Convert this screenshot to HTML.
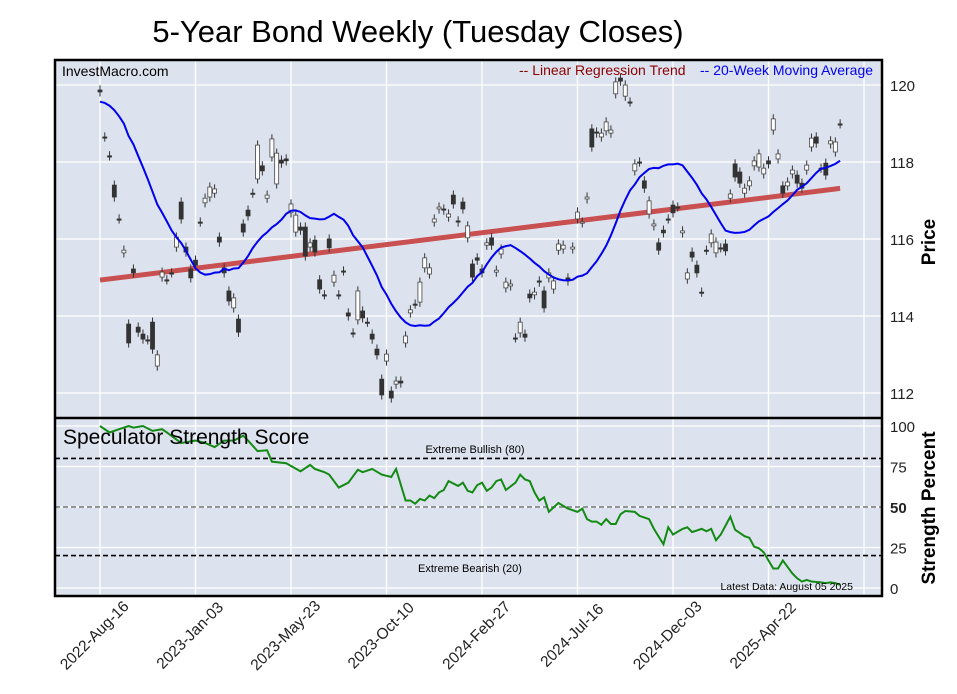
<!DOCTYPE html>
<html><head><meta charset="utf-8"><style>
html,body{margin:0;padding:0;background:#fff}
svg{display:block;font-family:"Liberation Sans",Arial,sans-serif}
</style></head><body>
<svg id="chart" width="957" height="694" viewBox="0 0 957 694" xmlns="http://www.w3.org/2000/svg">
<text x="418" y="42" font-size="31" text-anchor="middle" fill="#000">5-Year Bond Weekly (Tuesday Closes)</text>
<rect x="55" y="60" width="827" height="358" fill="#dde3ee"/>
<rect x="55" y="418" width="827" height="178" fill="#dde3ee"/>
<g id="grid"></g>
<g id="marks"></g>
<rect x="55" y="60" width="827" height="536" fill="none" stroke="#000" stroke-width="2.5"/>
<line x1="55" y1="418" x2="882" y2="418" stroke="#000" stroke-width="2.5"/>
<text x="62" y="76" font-size="14">InvestMacro.com</text>
<text x="519" y="75" font-size="14" fill="#8b0000">-- Linear Regression Trend</text>
<text x="700" y="75" font-size="14" fill="#0000ee">-- 20-Week Moving Average</text>
<text x="63" y="444" font-size="21">Speculator Strength Score</text>
<text x="475" y="453" font-size="11" text-anchor="middle">Extreme Bullish (80)</text>
<text x="470" y="572" font-size="11" text-anchor="middle">Extreme Bearish (20)</text>
<text x="853" y="590" font-size="10.5" text-anchor="end">Latest Data: August 05 2025</text>
<text transform="translate(935,242) rotate(-90)" font-size="19" font-weight="bold" text-anchor="middle">Price</text>
<text transform="translate(935,508) rotate(-90)" font-size="19" font-weight="bold" text-anchor="middle">Strength Percent</text>
</svg>
<script>
const priorCloses=[119.3,119.6,119.4,119.7,119.5,119.8,119.4,119.6,119.3,119.5,119.7,119.6,119.4,119.5,119.8,119.6,119.5,119.7,119.6];
const opens=[119.87,118.65,118.16,117.40,116.52,115.64,113.79,115.22,113.71,113.53,113.38,113.84,112.70,115.01,114.94,115.12,115.79,116.96,115.79,115.22,115.45,116.44,116.94,117.09,117.19,116.05,115.25,114.65,114.21,113.92,116.39,116.75,117.19,117.56,117.90,117.06,118.13,117.43,118.05,118.08,116.68,116.18,116.31,116.31,115.79,115.97,114.94,114.55,116.00,114.88,114.55,115.17,114.08,113.56,113.90,114.13,113.84,113.53,113.14,112.36,112.83,112.05,112.23,112.31,113.30,114.08,114.31,114.36,115.25,115.09,116.44,116.78,116.78,116.57,117.14,116.47,116.96,116.03,115.35,115.51,115.22,115.84,116.03,115.14,115.61,114.73,114.78,113.43,113.56,113.53,114.57,114.55,114.91,114.65,114.99,114.70,115.71,115.74,114.99,115.74,116.52,116.42,117.04,118.86,118.78,118.65,118.81,118.75,119.77,120.18,119.71,119.56,117.77,118.00,117.51,116.65,116.34,115.90,116.23,116.52,116.88,116.83,116.16,114.96,115.66,115.32,114.62,115.71,115.90,115.64,115.77,115.87,117.06,117.95,117.74,117.19,117.38,117.90,117.87,117.69,118.03,118.83,118.08,117.38,117.38,117.69,117.66,117.45,117.79,118.39,118.65,117.84,117.97,118.47,118.26,118.99];
const closes=[119.82,118.65,118.16,117.09,116.52,115.71,113.30,115.12,113.58,113.40,113.38,113.14,112.99,115.14,114.94,115.12,116.05,116.52,115.66,114.99,115.32,116.44,117.06,117.35,117.30,115.92,115.12,114.39,114.47,113.58,116.18,116.60,117.19,118.44,117.77,117.14,118.60,118.23,117.97,118.03,116.91,116.62,116.23,115.56,115.90,115.66,114.70,114.55,115.77,115.06,114.55,115.17,114.00,113.56,114.65,113.95,113.84,113.40,112.99,111.95,113.01,111.87,112.31,112.26,113.48,114.16,114.31,114.88,115.51,115.25,116.52,116.83,116.75,116.65,116.91,116.44,116.78,116.34,115.01,115.45,115.12,115.90,115.84,115.19,115.74,114.88,114.83,113.43,113.84,113.45,114.47,114.62,114.88,114.21,115.12,114.91,115.87,115.84,114.91,115.79,116.70,116.44,117.09,118.39,118.75,118.75,119.04,118.83,120.08,120.10,120.00,119.56,117.95,118.00,117.32,116.99,116.39,115.71,116.16,116.52,116.68,116.83,116.21,115.12,115.53,115.12,114.62,115.71,116.13,115.92,115.77,115.69,117.17,117.61,117.45,117.32,117.51,118.03,118.21,117.84,117.95,119.12,118.21,117.19,117.48,117.79,117.45,117.32,117.92,118.62,118.49,117.84,117.66,118.55,118.52,118.99];
const strengthWeeks=[0,2,4,6,7,9,11,13,14,17,18,20,22,24,26,28,30,31,33,35,36,39,42,44,45,47,48,50,52,54,55,57,59,61,62,64,65,66,67,68,69,70,71,72,73,75,76,77,78,79,80,81,82,83,84,85,87,88,89,90,91,92,93,94,96,98,100,101,102,103,104,105,106,107,108,109,110,112,113,115,116,118,119,120,122,123,124,126,127,128,129,130,132,133,135,136,137,138,139,140,141,142,143,144,145,146,147,148,149,151,152,153,154,155];
const strengthValues=[100,96,98,100,99,100,97,98,96,89.5,90,91,89.5,87,91,91,94,91,84.5,85,78,77,72,76,73.5,71.5,70,62,65,73,71.5,73.5,70,68.5,73.5,54,54,52,55,54,57,55.5,59,60.5,66,63,65,60,59,63.5,65,60,62,66,67,60.5,65,70,67,66,59,54,56,47,52.5,49,47,49,42.5,41,41,39,42.5,39.5,39.5,45.5,47.5,47,44.5,42.5,36.5,27,37.5,33,36.5,37.5,34.5,36.5,35,36.5,29.5,33,44,36,32,31,25.5,24.5,22,17,12,12,17,13,9,6,4,5,4,3.5,3,3.5,3,2];
const weekLabels=["2022-Aug-16","2023-Jan-03","2023-May-23","2023-Oct-10","2024-Feb-27","2024-Jul-16","2024-Dec-03","2025-Apr-22"];
const priceTicks=[112,114,116,118,120];
const strengthTicks=[0,25,50,75,100];
const NS="http://www.w3.org/2000/svg";
const X=w=>100+w*4.775;
const YP=p=>85+(120-p)*38.5;
const YS=v=>588-v*1.62;
const svg=document.getElementById('chart');
const grid=document.getElementById('grid'),marks=document.getElementById('marks');
function mk(tag,attrs,parent){const e=document.createElementNS(NS,tag);for(const k in attrs)e.setAttribute(k,attrs[k]);parent.appendChild(e);return e;}
weekLabels.forEach((lab,i)=>{
  const x=X(i*20);
  const g1=mk('line',{x1:x,x2:x,y1:60,y2:596,stroke:'#fff','stroke-width':1.3},grid);
  
  
  const t=mk('text',{transform:`translate(${x-2},${639}) rotate(-45)`,'font-size':15.5,'text-anchor':'middle',fill:'#222'},svg);
  t.textContent=lab;
  
  
});
const extraX=X(160);
mk('line',{x1:extraX,x2:extraX,y1:60,y2:596,stroke:'#fff','stroke-width':1.3},grid);
priceTicks.forEach(p=>{
  const y=YP(p);
  mk('line',{x1:55,x2:882,y1:y,y2:y,stroke:'#fff','stroke-width':1.3},grid);
  const t=mk('text',{x:890,y:y+6,'font-size':15,fill:'#222'},svg);
  t.textContent=p;
  
  
});
strengthTicks.forEach(v=>{
  const y=YS(v);
  mk('line',{x1:55,x2:882,y1:y,y2:y,stroke:'#fff','stroke-width':1.3},grid);
  const t=mk('text',{x:890,y:y+6,'font-size':15,fill:'#222','font-weight':v===50?'bold':'normal'},svg);
  t.textContent=v;
  
  
});
[[80,'#000'],[50,'#777'],[20,'#000']].forEach(([v,c])=>{
  const l=mk('line',{x1:55,x2:882,y1:YS(v),y2:YS(v),stroke:c,'stroke-width':1.6,'stroke-dasharray':'5,3'},grid);
  
  
});
const n=closes.length;let sx=0,sy=0,sxx=0,sxy=0;
closes.forEach((c,i)=>{sx+=i;sy+=c;sxx+=i*i;sxy+=i*c;});
const slope=(n*sxy-sx*sy)/(n*sxx-sx*sx),icpt=(sy-slope*sx)/n;
const reg=mk('line',{x1:X(0),y1:YP(icpt),x2:X(n-1),y2:YP(icpt+slope*(n-1)),stroke:'#c85050','stroke-width':5},marks);


opens.forEach((o,i)=>{
  const c=closes[i],x=X(i);
  const hi=Math.max(o,c)+0.12,lo=Math.min(o,c)-0.12;
  const w=mk('line',{x1:x,x2:x,y1:YP(hi),y2:YP(lo),stroke:'#333','stroke-width':1},marks);
  
  
  const top=YP(Math.max(o,c)),bot=YP(Math.min(o,c));
  const up=c>o;
  const b=mk('rect',{x:x-2,y:top,width:4,height:Math.max(1.2,bot-top),fill:up?'#fff':'#333',stroke:up?'#444':'#333','stroke-width':0.8},marks);
  
  
});
const all=priorCloses.concat(closes),off=priorCloses.length;
let ma=[];closes.forEach((c,i)=>{const s=all.slice(i+off-19,i+off+1);ma.push(s.reduce((a,b)=>a+b,0)/s.length);});
const maP=mk('polyline',{points:ma.map((v,i)=>X(i)+','+YP(v)).join(' '),fill:'none',stroke:'#0000ee','stroke-width':2},marks);


const sl=mk('polyline',{points:strengthValues.map((v,i)=>X(strengthWeeks[i])+','+YS(v)).join(' '),fill:'none',stroke:'#138a13','stroke-width':2},marks);


</script>
</body></html>
